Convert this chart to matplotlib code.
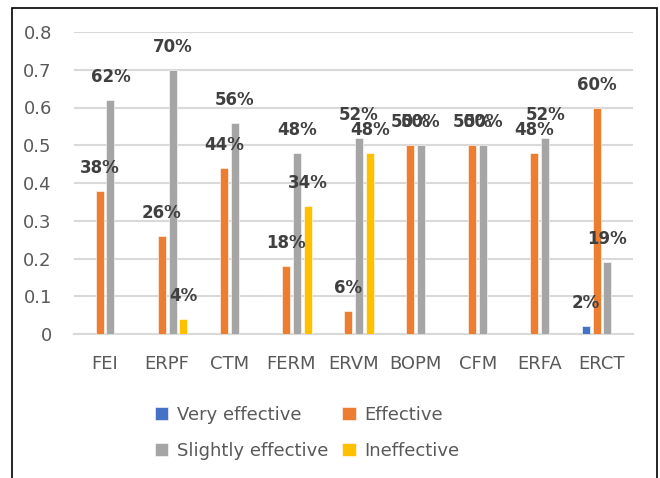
import matplotlib
matplotlib.use("Agg")
import matplotlib.pyplot as plt
from matplotlib.patches import Rectangle
import numpy as np

categories = ["FEI", "ERPF", "CTM", "FERM", "ERVM", "BOPM", "CFM", "ERFA", "ERCT"]
very_effective = [0, 0, 0, 0, 0, 0, 0, 0, 0.02]
effective = [0.38, 0.26, 0.44, 0.18, 0.06, 0.50, 0.50, 0.48, 0.60]
slightly_effective = [0.62, 0.70, 0.56, 0.48, 0.52, 0.50, 0.50, 0.52, 0.19]
ineffective = [0, 0.04, 0, 0.34, 0.48, 0, 0, 0, 0]
series_names = ["Very effective", "Effective", "Slightly effective", "Ineffective"]
y_ticks = [0, 0.1, 0.2, 0.3, 0.4, 0.5, 0.6, 0.7, 0.8]
y_tick_labels = ["0", "0.1", "0.2", "0.3", "0.4", "0.5", "0.6", "0.7", "0.8"]

colors = ["#4472C4", "#ED7D31", "#A5A5A5", "#FFC000"]
font = "DejaVu Sans"
text_gray = "#595959"
label_gray = "#404040"

W, H = 660, 478
fig = plt.figure(figsize=(W / 100, H / 100), dpi=100)
fig.patch.set_facecolor("white")

ax = fig.add_axes([74 / W, (H - 334) / H, (633 - 74) / W, (334 - 32) / H])

x = np.arange(len(categories))
width = 0.129
step = 0.174
all_series = [very_effective, effective, slightly_effective, ineffective]
containers = []
for k, (vals, name, col) in enumerate(zip(all_series, series_names, colors)):
    offs = (k - 1.5) * step
    bc = ax.bar(x + offs, vals, width, color=col, label=name,
                edgecolor="white", linewidth=0.4, zorder=3)
    containers.append(bc)
    for xi, v in zip(x, vals):
        if v > 0:
            ax.annotate(f"{round(v * 100):d}%", (xi + offs, v),
                        xytext=(0, 23), textcoords="offset pixels",
                        ha="center", va="center", fontsize=12,
                        fontweight="bold", color=label_gray,
                        family=font, zorder=5)

ax.set_xlim(-0.5, len(categories) - 0.5)
ax.set_ylim(0, 0.8)
ax.set_yticks(y_ticks)
ax.set_yticklabels(y_tick_labels)
ax.set_xticks(x)
ax.set_xticklabels(categories)
for lbl in ax.get_xticklabels() + ax.get_yticklabels():
    lbl.set_family(font)
    lbl.set_fontsize(13)
    lbl.set_color(text_gray)
ax.tick_params(axis="both", length=0)
ax.tick_params(axis="y", pad=16)
ax.tick_params(axis="x", pad=15)
ax.grid(axis="y", color="#D9D9D9", linewidth=1.5, zorder=0)
ax.set_axisbelow(True)
for side in ["left", "right", "top"]:
    ax.spines[side].set_visible(False)
ax.spines["bottom"].set_color("#D9D9D9")
ax.spines["bottom"].set_linewidth(1.5)

# legend laid out row by row: (Very effective, Effective) / (Slightly effective, Ineffective)
handles = [containers[0], containers[2], containers[1], containers[3]]
labels = [series_names[0], series_names[2], series_names[1], series_names[3]]
leg = fig.legend(handles, labels, ncol=2, frameon=False,
                 loc="center", bbox_to_anchor=(307 / W, (H - 433) / H),
                 prop={"family": font, "size": 13},
                 handlelength=0.75, handleheight=0.75, handletextpad=0.45,
                 labelspacing=1.0, columnspacing=0.8)
for t in leg.get_texts():
    t.set_color(text_gray)

fig.add_artist(Rectangle((11.5 / W, -0.01), (657 - 11.5) / W, (H - 8) / H + 0.01,
                         transform=fig.transFigure, fill=False,
                         edgecolor="black", linewidth=1.2, clip_on=False))

fig.savefig("out.png", dpi=100)
